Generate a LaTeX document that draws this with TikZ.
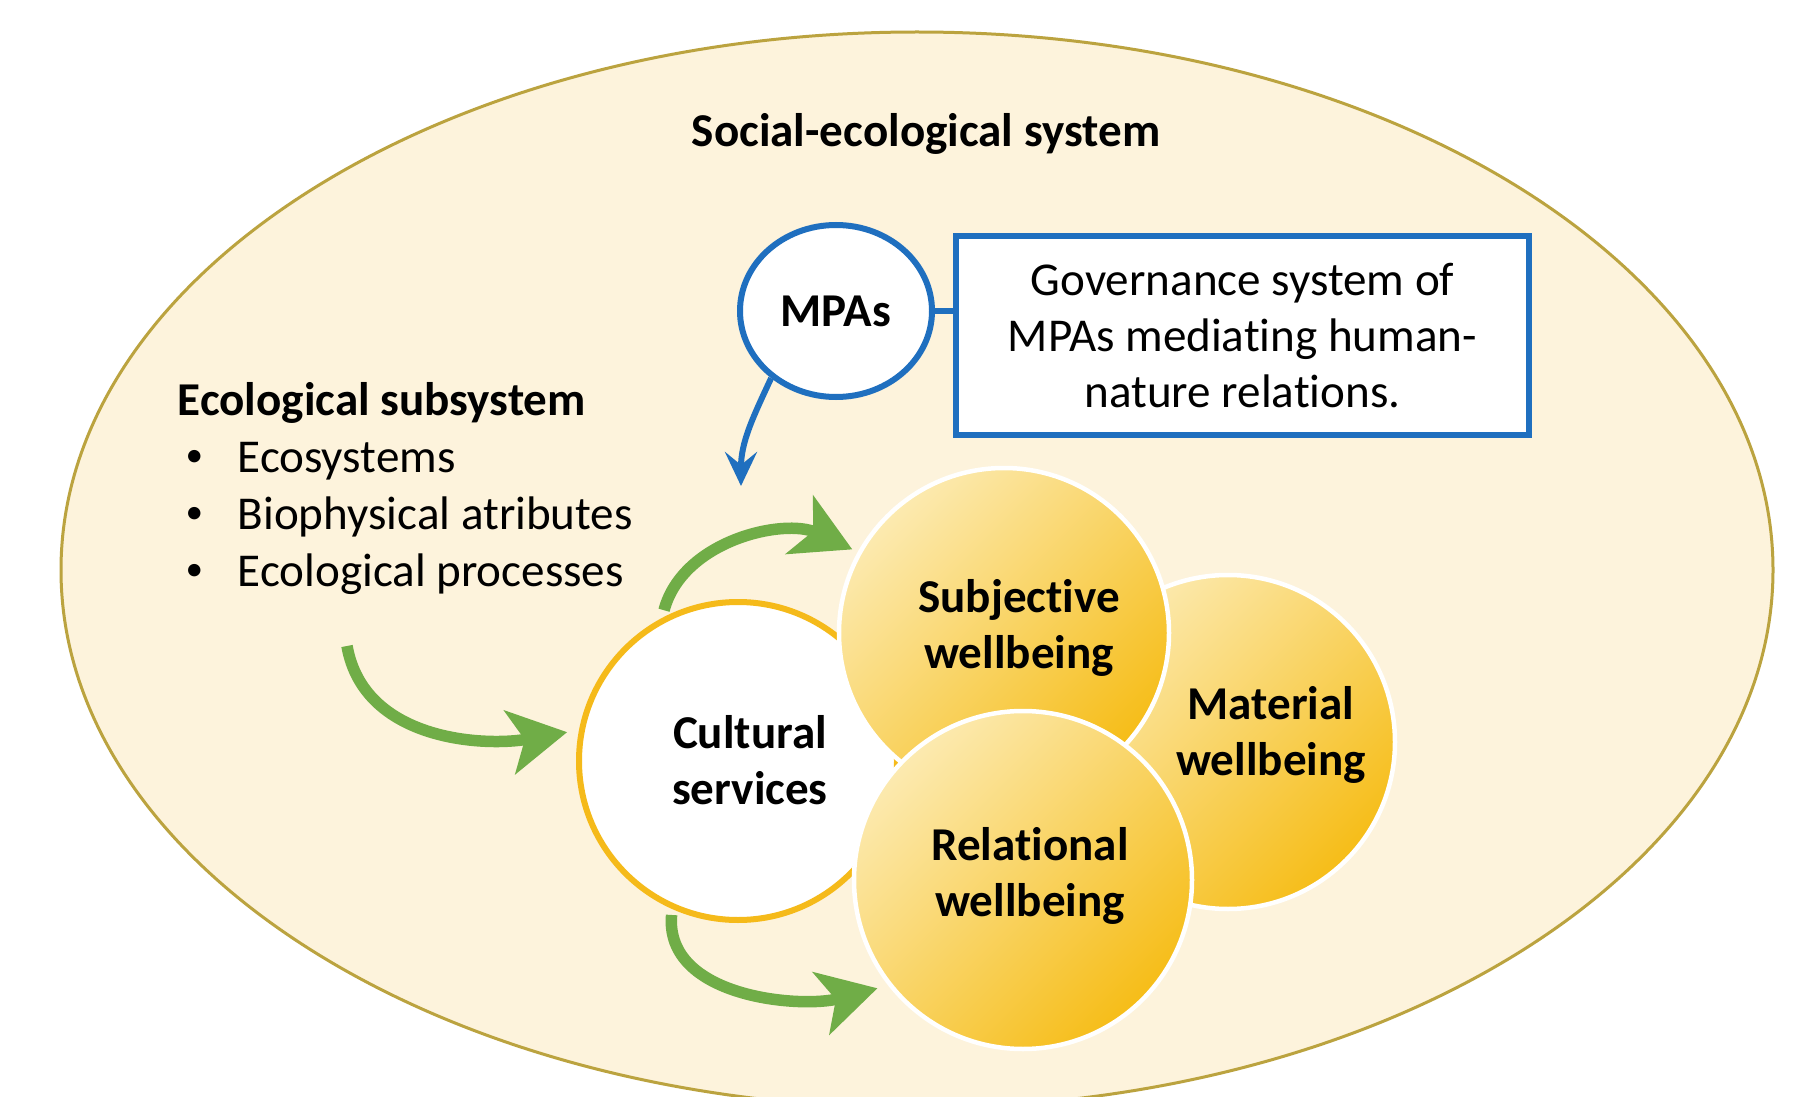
\documentclass[tikz,border=0pt]{standalone}
\usepackage{fontspec}
\setmainfont[Ligatures=NoCommon]{Carlito}
\usetikzlibrary{arrows.meta,shapes.geometric,positioning}
\definecolor{sesFill}{HTML}{FDF3DC}
\definecolor{sesLine}{HTML}{BBA33F}
\definecolor{myBlue}{HTML}{1F6FBF}
\definecolor{myGreen}{HTML}{70AD47}
\definecolor{myGold}{HTML}{F6BD18}
\definecolor{myGoldLight}{HTML}{FCEAB0}
\definecolor{myGoldRing}{HTML}{F5BA1A}

\newcommand{\bul}{\makebox[0.52cm][l]{\raisebox{0.12em}{\fontsize{10}{12}\selectfont\textbullet}}}

\begin{document}
\begin{tikzpicture}
[
font=\fontsize{13.4}{16}\selectfont,
flow/.style={draw=myGreen, line width=1.15mm, -{Stealth[length=5.8mm,width=6.4mm,inset=1.5mm]}},
link/.style={draw=myBlue, line width=0.6mm},
system/.style={ellipse,minimum width=17.12cm,minimum height=10.76cm,fill=sesFill,draw=sesLine,line width=0.3mm},
services/.style={circle,inner sep=0pt,fill=white,draw=myGoldRing,line width=0.6mm},
wellbeing/.style={circle,inner sep=0pt,draw=white,line width=0.45mm,top color=myGoldLight,bottom color=myGold,shading angle=45},
mpa/.style={ellipse,minimum width=1.92cm,minimum height=1.72cm,inner sep=0pt,fill=white,draw=myBlue,line width=0.6mm},
govbox/.style={rectangle,minimum width=5.73cm,minimum height=1.99cm,fill=white,draw=myBlue,line width=0.6mm,align=center},
txt/.style={inner sep=0pt,align=center,font=\fontsize{13.4}{16}\selectfont\bfseries},
item/.style={inner sep=0pt,anchor=west},
]

\useasboundingbox (0,0) rectangle (18.15,-10.97);
\fill[white] (0,0) rectangle (18.15,-10.97);
\clip (0,0) rectangle (18.15,-10.97);

% Background
\node[system] (sys) at (9.17,-5.70) {};
\node[txt] (sys-t) at (9.26,-1.34) {Social-ecological system};

% Ecological subsystem
\node[item,font=\fontsize{13.4}{16}\selectfont\bfseries] (eco) at (1.77,-4.03) {Ecological subsystem};
\node[item] (eco1) at (1.85,-4.61) {\bul Ecosystems};
\node[item] (eco2) at (1.85,-5.17) {\bul Biophysical atributes};
\node[item] (eco3) at (1.85,-5.74) {\bul Ecological processes};

% Governance
\node[mpa] (mpa) at (8.36,-3.11) {\bfseries MPAs};
\node[govbox] (gov) at (12.425,-3.355) {Governance system of\\MPAs mediating human-\\nature relations.};
\draw[link] (mpa.east) -- (mpa.east -| gov.west);

% Services and wellbeing
\node[services,minimum size=3.18cm] (cult) at (7.38,-7.61) {};
\node[wellbeing,minimum size=3.34cm] (mat) at (12.28,-7.42) {};
\node[wellbeing,minimum size=3.30cm] (subj) at (10.04,-6.33) {};
\node[wellbeing,minimum size=3.38cm] (rel) at (10.23,-8.80) {};

\node[txt] (cult-t) at (7.50,-7.60) {Cultural\\services};
\node[txt] (subj-t) at (10.19,-6.28) {Subjective\\wellbeing};
\node[txt] (mat-t) at (12.71,-7.35) {Material\\wellbeing};
\node[txt] (rel-t) at (10.30,-8.76) {Relational\\wellbeing};

% Flows
\coordinate (mpa-in) at (7.41,-4.86);
\coordinate (eco-out) at (3.47,-6.46);

\draw[] (mpa.-134) edge[link,out=-115,in=90,-{Stealth[length=3.4mm,width=3.2mm,inset=1.3mm]}] (mpa-in);
\draw[] (eco-out) edge[flow,out=-80,in=-170,shorten >=1.2mm] (cult.169);
\draw[] (cult.118) edge[flow,out=75,in=155,shorten <=0.8mm,shorten >=0.6mm] (subj.151);
\draw[] (cult.-114) edge[flow,out=-95,in=-165,shorten <=0.6mm,shorten >=1.1mm] (rel.-142);

\end{tikzpicture}
\end{document}
